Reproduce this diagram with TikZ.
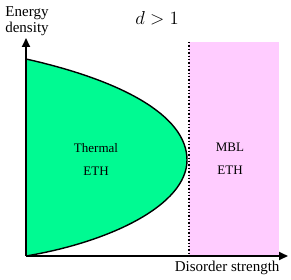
\documentclass[tikz,border=0pt]{standalone}
\usepackage{fontspec}
\setmainfont{Liberation Serif}
\usepackage{tikz}
\usetikzlibrary{arrows.meta, positioning}
\definecolor{thermal}{HTML}{00FA92}
\definecolor{mbl}{HTML}{FFCCFF}
\definecolor{ink}{HTML}{000000}
\tikzset{
  axis/.style={-{Triangle[length=9pt, width=8pt]}, line width=1.8pt, draw=ink},
  border/.style={line width=1.4pt, draw=ink},
  phase/.style={align=center, font=\fontsize{13}{23}\selectfont, text=ink},
  axlabel/.style={align=center, font=\fontsize{15}{16}\selectfont, text=ink},
}
\begin{document}
\begin{tikzpicture}[x=1pt, y=-1pt]
  \useasboundingbox (0,0) rectangle (291,280);
  \coordinate (o) at (26,256);
  \coordinate (ytop) at (26,38);
  \coordinate (xend) at (288,256);
  \coordinate (tip) at (187,160);
  \coordinate (start) at (26,59);

  % MBL region
  \fill[mbl] (189,42) rectangle (279,256);
  \draw[dotted, line width=1.4pt] (189,42) -- (189,256);

  % thermal region
  \fill[thermal] (start) .. controls (120,80) and (187,115) .. (tip)
    .. controls (187,205) and (110,242) .. (o) -- cycle;
  \draw[border] (start) .. controls (120,80) and (187,115) .. (tip)
    .. controls (187,205) and (110,242) .. (o);

  \draw[axis] (o) -- (ytop);
  \draw[axis] (o) -- (xend);

  \node[phase] (th) at (96,159) {Thermal\\ETH};
  \node[phase] (mb) at (230,159) {MBL\\ETH};
  \node[axlabel] (ylab) at (27,21) {Energy\\density};
  \node[axlabel, anchor=east] (xlab) at (283,268) {Disorder strength};
  \node[axlabel] (dim) at (157,18) {\scalebox{1.3}{$d>1$}};
\end{tikzpicture}
\end{document}
